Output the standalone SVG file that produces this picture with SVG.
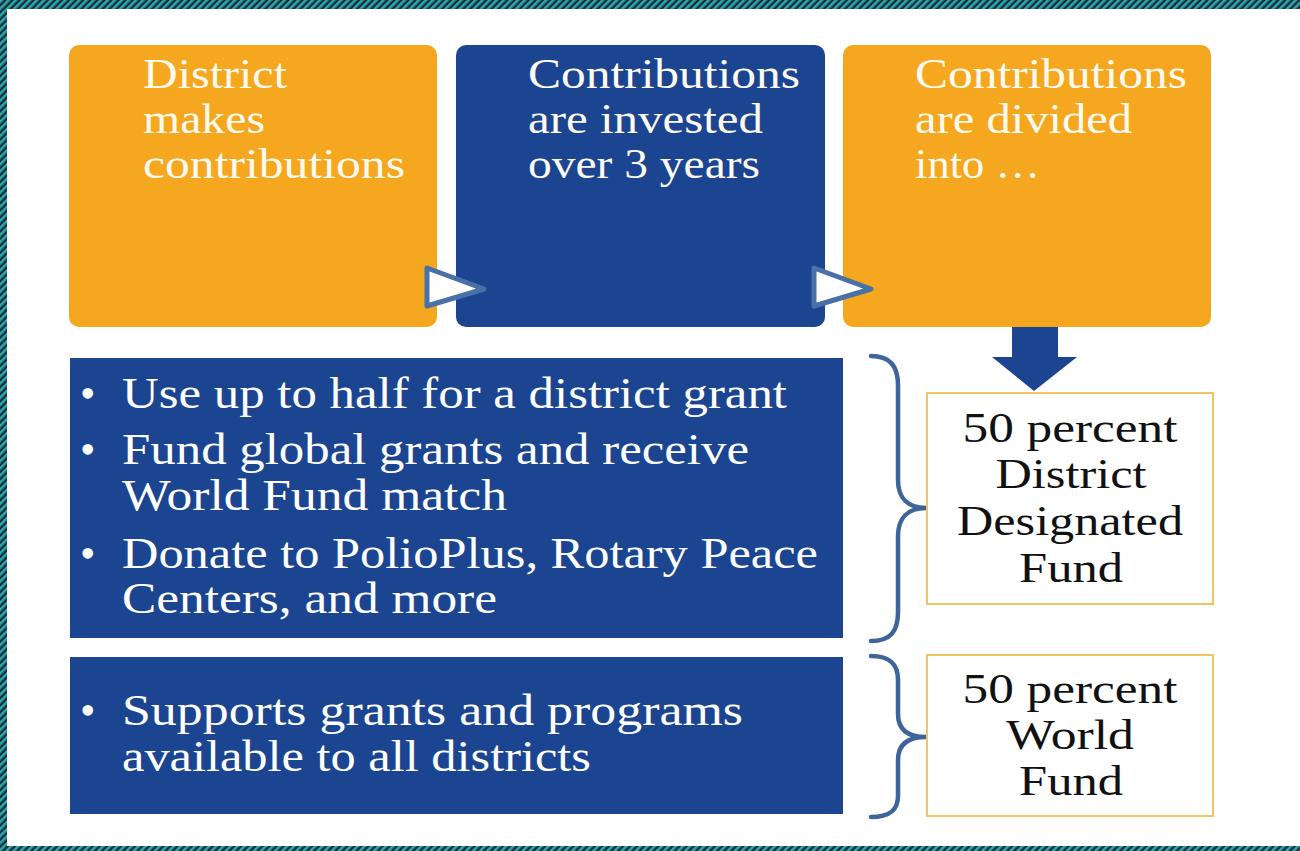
<svg xmlns="http://www.w3.org/2000/svg" width="1300" height="851" viewBox="0 0 1300 851">
<defs>
<pattern id="hatch" width="5" height="5" patternUnits="userSpaceOnUse" patternTransform="rotate(45)">
<rect width="5" height="5" fill="#1c2c33"/>
<rect width="2.6" height="5" fill="#27a8b3"/>
</pattern>
</defs>
<style>
.or{fill:#f5a81f}
.bl{fill:#1b4591}
.t{font-family:"Liberation Serif","Times New Roman",serif;font-size:42px;fill:#fffaf0}
.b{font-family:"Liberation Serif","Times New Roman",serif;font-size:44px;fill:#ffffff}
.d{font-family:"Liberation Serif","Times New Roman",serif;font-size:43px;fill:#111111;text-anchor:middle}
.ob{fill:#ffffff;stroke:#f3c462;stroke-width:2}
.tri{fill:#ffffff;stroke:#4a70a8;stroke-width:5;stroke-linejoin:round}
.brace{fill:none;stroke:#3e6499;stroke-width:4.5;stroke-linecap:round}
</style>
<rect width="1300" height="851" fill="#ffffff"/>
<rect x="0" y="0" width="1300" height="9" fill="url(#hatch)"/>
<rect x="0" y="0" width="7" height="851" fill="url(#hatch)"/>
<rect x="0" y="846" width="1300" height="5" fill="url(#hatch)"/>

<g id="node-district-makes">
<rect class="or" x="69" y="45" width="368" height="282" rx="10"/>
<text class="t" lengthAdjust="spacingAndGlyphs"><tspan x="143" y="88" textLength="144" lengthAdjust="spacingAndGlyphs">District</tspan><tspan x="143" y="133" textLength="122" lengthAdjust="spacingAndGlyphs">makes</tspan><tspan x="143" y="178" textLength="262" lengthAdjust="spacingAndGlyphs">contributions</tspan></text>
</g>
<g id="node-invested">
<rect class="bl" x="456" y="45" width="369" height="282" rx="10"/>
<text class="t"><tspan x="528" y="88" textLength="272" lengthAdjust="spacingAndGlyphs">Contributions</tspan><tspan x="528" y="133" textLength="235" lengthAdjust="spacingAndGlyphs">are invested</tspan><tspan x="528" y="178" textLength="232" lengthAdjust="spacingAndGlyphs">over 3 years</tspan></text>
</g>
<g id="node-divided">
<rect class="or" x="843" y="45" width="368" height="282" rx="10"/>
<text class="t"><tspan x="915" y="88" textLength="272" lengthAdjust="spacingAndGlyphs">Contributions</tspan><tspan x="915" y="133" textLength="217" lengthAdjust="spacingAndGlyphs">are divided</tspan><tspan x="915" y="178" textLength="125" lengthAdjust="spacingAndGlyphs">into …</tspan></text>
</g>

<g id="node-ddf-uses">
<rect class="bl" x="70" y="358" width="773" height="280"/>
<text class="b"><tspan x="80" y="408">•</tspan><tspan x="122" y="408" textLength="665" lengthAdjust="spacingAndGlyphs">Use up to half for a district grant</tspan><tspan x="80" y="464">•</tspan><tspan x="122" y="464" textLength="627" lengthAdjust="spacingAndGlyphs">Fund global grants and receive</tspan><tspan x="122" y="510" textLength="385" lengthAdjust="spacingAndGlyphs">World Fund match</tspan><tspan x="80" y="568">•</tspan><tspan x="122" y="568" textLength="696" lengthAdjust="spacingAndGlyphs">Donate to PolioPlus, Rotary Peace</tspan><tspan x="122" y="613" textLength="375" lengthAdjust="spacingAndGlyphs">Centers, and more</tspan></text>
</g>
<g id="node-wf-uses">
<rect class="bl" x="70" y="657" width="773" height="157"/>
<text class="b"><tspan x="80" y="725">•</tspan><tspan x="122" y="725" textLength="621" lengthAdjust="spacingAndGlyphs">Supports grants and programs</tspan><tspan x="122" y="771" textLength="469" lengthAdjust="spacingAndGlyphs">available to all districts</tspan></text>
</g>

<g id="node-ddf">
<rect class="ob" x="927" y="393" width="286" height="211"/>
<text class="d"><tspan x="1070" y="442" textLength="215" lengthAdjust="spacingAndGlyphs">50 percent</tspan><tspan x="1071" y="488" textLength="151" lengthAdjust="spacingAndGlyphs">District</tspan><tspan x="1070" y="535" textLength="226" lengthAdjust="spacingAndGlyphs">Designated</tspan><tspan x="1071" y="582" textLength="104" lengthAdjust="spacingAndGlyphs">Fund</tspan></text>
</g>
<g id="node-wf">
<rect class="ob" x="927" y="655" width="286" height="161"/>
<text class="d"><tspan x="1070" y="703" textLength="215" lengthAdjust="spacingAndGlyphs">50 percent</tspan><tspan x="1070" y="749" textLength="128" lengthAdjust="spacingAndGlyphs">World</tspan><tspan x="1071" y="795" textLength="104" lengthAdjust="spacingAndGlyphs">Fund</tspan></text>
</g>

<g id="connectors">
<polygon class="tri" points="427,268 484,289 427,306"/>
<polygon class="tri" points="814,268 871,289 814,306"/>
<polygon class="bl" points="1012,327 1058,327 1058,357 1077,357 1034,391 992,357 1012,357"/>
<path class="brace" d="M871,356 C890,356 898,366 898,385 L898,480 C898,498 908,508 926,508 C908,508 898,518 898,536 L898,612 C898,632 890,641 871,641"/>
<path class="brace" d="M871,656 C890,656 898,664 898,680 L898,714 C898,730 908,737 926,737 C908,737 898,744 898,760 L898,796 C898,810 890,817 871,817"/>
</g>
</svg>
